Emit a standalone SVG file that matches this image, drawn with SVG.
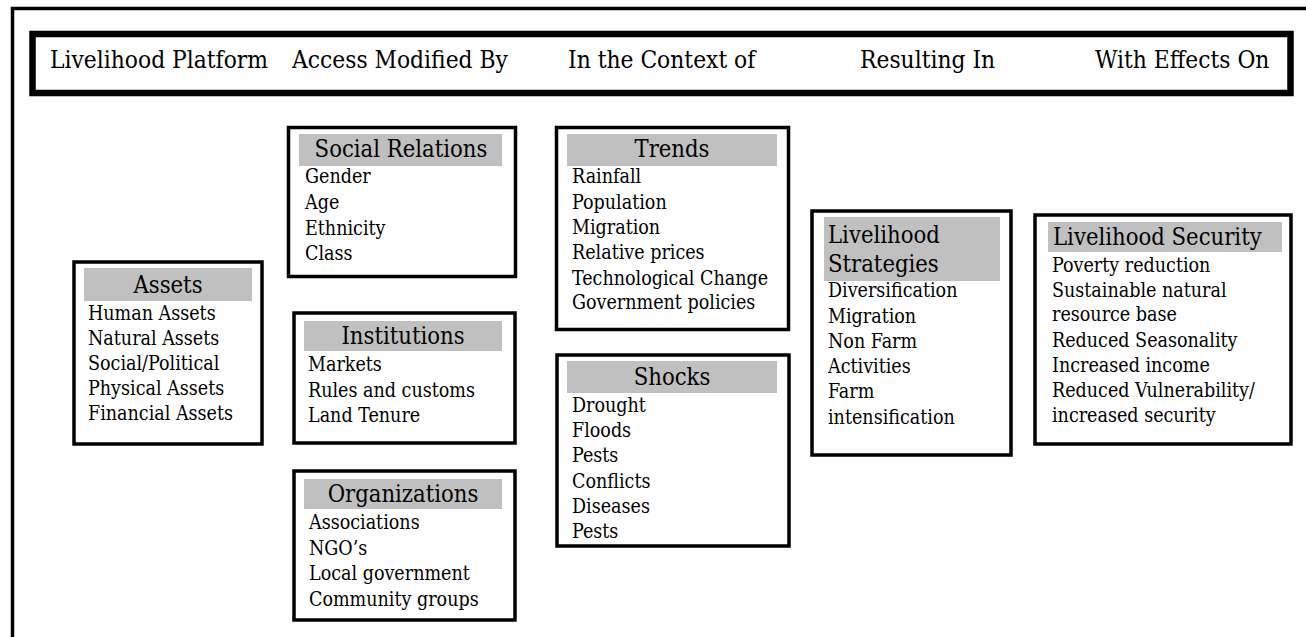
<svg xmlns="http://www.w3.org/2000/svg" width="1306" height="637" viewBox="0 0 1306 637">
<style>
text{fill:#000;font-family:"DejaVu Serif Condensed","DejaVu Serif","Liberation Serif",serif}
.h{font-size:24.3px}
.t{font-size:23.6px}
.tc{font-size:23.6px;text-anchor:middle}
.i{font-size:19.5px}
.box{fill:#fff;stroke:#000;stroke-width:3.5}
.bar{fill:#c0c0c0}
</style>
<rect width="1306" height="637" fill="#fff"/>
<path d="M12.5,660 V8.5 H1320" fill="none" stroke="#000" stroke-width="3.5"/>
<g id="header">
<rect x="32.5" y="34" width="1258" height="59" fill="#fff" stroke="#000" stroke-width="6.5"/>
<text class="h" x="50" y="68">Livelihood Platform</text>
<text class="h" x="292" y="68">Access Modified By</text>
<text class="h" x="568" y="68">In the Context of</text>
<text class="h" x="860" y="68">Resulting In</text>
<text class="h" x="1095" y="68">With Effects On</text>
</g>
<g id="connectors"></g>
<g id="assets">
<rect class="box" x="74" y="262" width="188" height="182"/>
<rect class="bar" x="84" y="268" width="168" height="33"/>
<text class="tc" x="168" y="293">Assets</text>
<text class="i" x="88" y="320">Human Assets</text>
<text class="i" x="88" y="345">Natural Assets</text>
<text class="i" x="88" y="370">Social/Political</text>
<text class="i" x="88" y="395">Physical Assets</text>
<text class="i" x="88" y="420">Financial Assets</text>
</g>
<g id="social-relations">
<rect class="box" x="288.5" y="127.5" width="227" height="149"/>
<rect class="bar" x="299" y="134" width="203" height="32"/>
<text class="tc" x="401" y="157">Social Relations</text>
<text class="i" x="305" y="183">Gender</text>
<text class="i" x="305" y="209">Age</text>
<text class="i" x="305" y="235">Ethnicity</text>
<text class="i" x="305" y="260">Class</text>
</g>
<g id="institutions">
<rect class="box" x="294" y="313" width="221" height="130"/>
<rect class="bar" x="304" y="321" width="198" height="30"/>
<text class="tc" x="403" y="344">Institutions</text>
<text class="i" x="308" y="371">Markets</text>
<text class="i" x="308" y="397">Rules and customs</text>
<text class="i" x="308" y="422">Land Tenure</text>
</g>
<g id="organizations">
<rect class="box" x="294" y="471" width="221" height="149"/>
<rect class="bar" x="304" y="479" width="198" height="30"/>
<text class="tc" x="403" y="502">Organizations</text>
<text class="i" x="309" y="529">Associations</text>
<text class="i" x="309" y="555">NGO’s</text>
<text class="i" x="309" y="580">Local government</text>
<text class="i" x="309" y="606">Community groups</text>
</g>
<g id="trends">
<rect class="box" x="556.5" y="127.5" width="232" height="202"/>
<rect class="bar" x="567" y="134" width="210" height="32"/>
<text class="tc" x="672" y="157">Trends</text>
<text class="i" x="572" y="183">Rainfall</text>
<text class="i" x="572" y="209">Population</text>
<text class="i" x="572" y="234">Migration</text>
<text class="i" x="572" y="259">Relative prices</text>
<text class="i" x="572" y="285">Technological Change</text>
<text class="i" x="572" y="309">Government policies</text>
</g>
<g id="shocks">
<rect class="box" x="557" y="355" width="232" height="191"/>
<rect class="bar" x="567" y="361" width="210" height="32"/>
<text class="tc" x="672" y="385">Shocks</text>
<text class="i" x="572" y="412">Drought</text>
<text class="i" x="572" y="437">Floods</text>
<text class="i" x="572" y="462">Pests</text>
<text class="i" x="572" y="488">Conflicts</text>
<text class="i" x="572" y="513">Diseases</text>
<text class="i" x="572" y="538">Pests</text>
</g>
<g id="livelihood-strategies">
<rect class="box" x="812" y="211" width="199" height="244"/>
<rect class="bar" x="824" y="217" width="176" height="64"/>
<text class="t" x="828" y="243">Livelihood</text>
<text class="t" x="828" y="272">Strategies</text>
<text class="i" x="828" y="297">Diversification</text>
<text class="i" x="828" y="323">Migration</text>
<text class="i" x="828" y="348">Non Farm</text>
<text class="i" x="828" y="373">Activities</text>
<text class="i" x="828" y="398">Farm</text>
<text class="i" x="828" y="424">intensification</text>
</g>
<g id="livelihood-security">
<rect class="box" x="1035" y="215" width="256" height="229"/>
<rect class="bar" x="1048" y="222" width="234" height="30"/>
<text class="t" x="1053" y="245">Livelihood Security</text>
<text class="i" x="1052" y="272">Poverty reduction</text>
<text class="i" x="1052" y="297">Sustainable natural</text>
<text class="i" x="1052" y="321">resource base</text>
<text class="i" x="1052" y="347">Reduced Seasonality</text>
<text class="i" x="1052" y="372">Increased income</text>
<text class="i" x="1052" y="397">Reduced Vulnerability/</text>
<text class="i" x="1052" y="422">increased security</text>
</g>
</svg>
